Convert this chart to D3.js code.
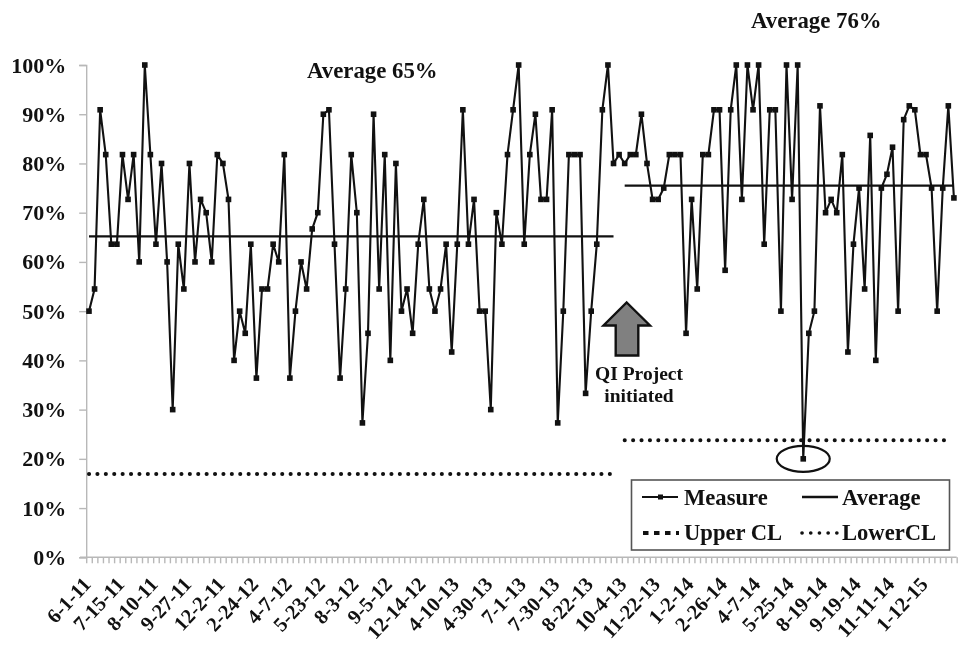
<!DOCTYPE html>
<html lang="en">
<head>
    <meta charset="UTF-8">
    <title>Measure run chart</title>
    <script src="https://d3js.org/d3.v7.min.js"></script>
    <style>
        html, body { margin: 0; padding: 0; background: #fff; }
        svg { display: block; filter: blur(0.4px); }
        text { font-family: "Liberation Serif", serif; font-weight: bold; fill: #111; }
    </style>
</head>
<body>
    <svg id="chart" width="962" height="646"></svg>
    <script>
        // values, one per date
        const measure = [
            50, 54.5, 90.9, 81.8, 63.6, 63.6, 81.8, 72.7, 81.8, 60,
            100, 81.8, 63.6, 80, 60, 30, 63.6, 54.5, 80, 60,
            72.7, 70, 60, 81.8, 80, 72.7, 40, 50, 45.5, 63.6,
            36.4, 54.5, 54.5, 63.6, 60, 81.8, 36.4, 50, 60, 54.5,
            66.7, 70, 90, 90.9, 63.6, 36.4, 54.5, 81.8, 70, 27.3,
            45.5, 90, 54.5, 81.8, 40, 80, 50, 54.5, 45.5, 63.6,
            72.7, 54.5, 50, 54.5, 63.6, 41.7, 63.6, 90.9, 63.6, 72.7,
            50, 50, 30, 70, 63.6, 81.8, 90.9, 100, 63.6, 81.8,
            90, 72.7, 72.7, 90.9, 27.3, 50, 81.8, 81.8, 81.8, 33.3,
            50, 63.6, 90.9, 100, 80, 81.8, 80, 81.8, 81.8, 90,
            80, 72.7, 72.7, 75, 81.8, 81.8, 81.8, 45.5, 72.7, 54.5,
            81.8, 81.8, 90.9, 90.9, 58.3, 90.9, 100, 72.7, 100, 90.9,
            100, 63.6, 90.9, 90.9, 50, 100, 72.7, 100, 20, 45.5,
            50, 91.7, 70, 72.7, 70, 81.8, 41.7, 63.6, 75, 54.5,
            85.7, 40, 75, 77.8, 83.3, 50, 88.9, 91.7, 90.9, 81.8,
            81.8, 75, 50, 75, 91.7, 73
        ];
        const tickLabels = [
            '6-1-11', '7-15-11', '8-10-11', '9-27-11', '12-2-11', '2-24-12', '4-7-12',
            '5-23-12', '8-3-12', '9-5-12', '12-14-12', '4-10-13', '4-30-13', '7-1-13',
            '7-30-13', '8-22-13', '10-4-13', '11-22-13', '1-2-14', '2-26-14', '4-7-14',
            '5-25-14', '8-19-14', '9-19-14', '11-11-14', '1-12-15'
        ];
        const labelEvery = 6;
        const yTicks = [0, 10, 20, 30, 40, 50, 60, 70, 80, 90, 100];

        // [first index, last index, value]
        const averageSegments = [[0, 94, 65.2], [96, 155, 75.5]];
        const lowerClSegments = [[0, 94, 16.9], [96, 155, 23.8]];

        const svg = d3.select('#chart');

        // x runs over category edges so the ticks fall between points
        const x = d3.scaleLinear().domain([0, measure.length]).range([86.2, 956.7]);
        const y = d3.scaleLinear().domain([0, 100]).range([557.3, 65]);
        const px = i => x(i + 0.5);

        // y axis
        const yAxis = svg.append('g')
            .attr('transform', `translate(${x(0)},0)`)
            .call(d3.axisLeft(y).tickValues(yTicks).tickSize(7).tickPadding(13).tickFormat(d => d + '%'));
        yAxis.selectAll('text').style('font-size', '22px');

        // x axis tick marks, one per date
        const xAxis = svg.append('g')
            .attr('transform', `translate(0,${y(0)})`)
            .call(d3.axisBottom(x).tickValues(d3.range(measure.length + 1)).tickSize(6).tickFormat(''));

        svg.selectAll('.domain, .tick line')
            .attr('stroke', '#b8b8b8')
            .attr('stroke-width', 1.4);
        xAxis.select('.domain').attr('d', `M80,0H${x(measure.length)}`);

        // every sixth date gets a label
        const xLabels = svg.append('g')
            .attr('transform', `translate(0,${y(0)})`)
            .call(d3.axisBottom(x)
                .tickValues(tickLabels.map((d, i) => i * labelEvery + 0.5))
                .tickSize(0)
                .tickFormat((d, i) => tickLabels[i]));
        xLabels.select('.domain').remove();
        xLabels.selectAll('text')
            .style('font-size', '20.5px')
            .style('text-anchor', 'end')
            .attr('transform', 'translate(-5,21) rotate(-47)')
            .attr('dy', '0.5em')
            .attr('y', 0);

        // average and lower control limit, drawn in two pieces
        svg.selectAll('.average')
            .data(averageSegments)
            .enter().append('line')
            .attr('class', 'average')
            .attr('x1', d => px(d[0]))
            .attr('x2', d => px(d[1]))
            .attr('y1', d => y(d[2]))
            .attr('y2', d => y(d[2]))
            .attr('stroke', '#111')
            .attr('stroke-width', 2.3);

        svg.selectAll('.lower-cl')
            .data(lowerClSegments)
            .enter().append('line')
            .attr('class', 'lower-cl')
            .attr('x1', d => px(d[0]))
            .attr('x2', d => px(d[1]) - 2)
            .attr('y1', d => y(d[2]))
            .attr('y2', d => y(d[2]))
            .attr('stroke', '#111')
            .attr('stroke-width', 4)
            .attr('stroke-linecap', 'round')
            .attr('stroke-dasharray', '0.1 8.3');

        // measure line and its square markers
        const line = d3.line()
            .x((d, i) => px(i))
            .y(d => y(d));

        svg.append('path')
            .datum(measure)
            .attr('fill', 'none')
            .attr('stroke', '#111')
            .attr('stroke-width', 2.1)
            .attr('d', line);

        svg.selectAll('.point')
            .data(measure)
            .enter().append('rect')
            .attr('class', 'point')
            .attr('x', (d, i) => px(i) - 2.8)
            .attr('y', d => y(d) - 2.8)
            .attr('width', 5.6)
            .attr('height', 5.6)
            .attr('fill', '#111');

        // circle around the low point
        svg.append('ellipse')
            .attr('cx', px(128))
            .attr('cy', y(20))
            .attr('rx', 26.5)
            .attr('ry', 13)
            .attr('fill', 'none')
            .attr('stroke', '#111')
            .attr('stroke-width', 2.2);

        // QI project arrow
        svg.append('path')
            .attr('d', 'M626.7,302.5 L650,325.5 L638.3,325.5 L638.3,355.5 L615.7,355.5 L615.7,325.5 L603.5,325.5 Z')
            .attr('fill', '#808080')
            .attr('stroke', '#111')
            .attr('stroke-width', 2.4);

        const notes = [
            ['Average 65%', 307, 78, 'start', 22.8],
            ['Average 76%', 751, 28, 'start', 22.8],
            ['QI Project', 639, 380, 'middle', 19.5],
            ['initiated', 639, 402, 'middle', 19.5]
        ];
        svg.selectAll('.note')
            .data(notes)
            .enter().append('text')
            .attr('class', 'note')
            .attr('x', d => d[1])
            .attr('y', d => d[2])
            .attr('text-anchor', d => d[3])
            .style('font-size', d => d[4] + 'px')
            .text(d => d[0]);

        // legend
        const legend = svg.append('g');
        legend.append('rect')
            .attr('x', 631.5)
            .attr('y', 480)
            .attr('width', 318)
            .attr('height', 70)
            .attr('fill', '#fff')
            .attr('stroke', '#555')
            .attr('stroke-width', 1.6);

        const legendItems = [
            { name: 'Measure', sx: 642, tx: 684, row: 497, base: 505, w: 2, dash: null, cap: 'butt', mark: true },
            { name: 'Average', sx: 802, tx: 842, row: 497, base: 505, w: 2.3, dash: null, cap: 'butt', mark: false },
            { name: 'Upper CL', sx: 643, tx: 684, row: 533, base: 540, w: 4, dash: '5.5 5.5', cap: 'butt', mark: false },
            { name: 'LowerCL', sx: 802, tx: 842, row: 533, base: 540, w: 3.6, dash: '0.1 8.6', cap: 'round', mark: false }
        ];
        legendItems.forEach(d => {
            legend.append('line')
                .attr('x1', d.sx)
                .attr('x2', d.sx + 36)
                .attr('y1', d.row)
                .attr('y2', d.row)
                .attr('stroke', '#111')
                .attr('stroke-width', d.w)
                .attr('stroke-linecap', d.cap)
                .attr('stroke-dasharray', d.dash);
            if (d.mark) {
                legend.append('rect')
                    .attr('x', d.sx + 16)
                    .attr('y', d.row - 2.5)
                    .attr('width', 5)
                    .attr('height', 5)
                    .attr('fill', '#111');
            }
            legend.append('text')
                .attr('x', d.tx)
                .attr('y', d.base)
                .style('font-size', '22.6px')
                .text(d.name);
        });
    </script>
</body>
</html>
